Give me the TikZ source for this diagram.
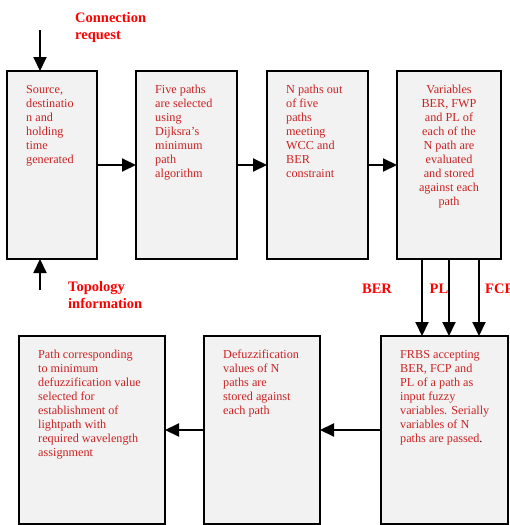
\documentclass[tikz,border=0pt]{standalone}
\usepackage{fontspec}
\setmainfont{Liberation Serif}
\usetikzlibrary{arrows.meta, positioning}
\definecolor{boxred}{RGB}{204,34,34}
\definecolor{boxgray}{RGB}{242,242,242}
\tikzstyle{stage} = [rectangle, draw=black, line width=2pt, fill=boxgray, minimum height=188pt, inner sep=0pt, outer sep=0pt]
\tikzstyle{stagetext} = [align=left, inner sep=0pt, text=boxred, font=\fontsize{12.2}{14}\selectfont]
\tikzstyle{inlabel} = [inner sep=0pt, text=red, align=left, font=\fontsize{14.5}{17}\selectfont\bfseries]
\tikzstyle{arrow} = [line width=2pt, -{Triangle[length=14pt, width=13pt]}]
\begin{document}
\begin{tikzpicture}[x=1pt, y=-1pt, node distance=1cm]
\useasboundingbox (0,0) rectangle (509,525);

% top row
\node (src) [stage, minimum width=90pt] at (52,165) {};
\node (select) [stage, minimum width=101pt, right=39pt of src] {};
\node (meet) [stage, minimum width=101pt, right=30pt of select] {};
\node (evalv) [stage, minimum width=104pt, right=29pt of meet] {};

\node (srctext) [stagetext, below right=14pt and 19pt of src.north west] {Source,\\destinatio\\n and\\holding\\time\\generated};
\node (selecttext) [stagetext, below right=14pt and 19pt of select.north west] {Five paths\\are selected\\using\\Dijksra’s\\minimum\\path\\algorithm};
\node (meettext) [stagetext, below right=14pt and 19pt of meet.north west] {N paths out\\of five\\paths\\meeting\\WCC and\\BER\\constraint};
\node (evalvtext) [stagetext, align=center, below=14pt of evalv.north] {Variables\\BER, FWP\\and PL of\\each of the\\N path are\\evaluated\\and stored\\against each\\path};

\draw [arrow] (src) -- (select);
\draw [arrow] (select) -- (meet);
\draw [arrow] (meet) -- (evalv);

% inputs
\coordinate (req) at (40,30);
\coordinate (topo) at (40,290);
\draw [arrow] (req) -- (req |- src.north);
\draw [arrow] (topo) -- (topo |- src.south);
\node (reqlabel) [inlabel, anchor=north west] at (75,12) {Connection\\request};
\node (topolabel) [inlabel, anchor=north west] at (68,281) {Topology\\information};

% bottom row
\node (frbs) [stage, minimum width=127pt] at (444.5,430) {};
\node (defuzz) [stage, minimum width=116pt, left=61pt of frbs] {};
\node (lightpath) [stage, minimum width=146pt, left=39pt of defuzz] {};

\node (frbstext) [stagetext, below right=14pt and 19pt of frbs.north west] {FRBS accepting\\BER, FCP and\\PL of a path as\\input fuzzy\\variables. Serially\\variables of N\\paths are passed{\color{black}.}};
\node (defuzztext) [stagetext, below right=14pt and 19pt of defuzz.north west] {Defuzzification\\values of N\\paths are\\stored against\\each path};
\node (lightpathtext) [stagetext, below right=14pt and 19pt of lightpath.north west] {Path corresponding\\to minimum\\defuzzification value\\selected for\\establishment of\\lightpath with\\required wavelength\\assignment};

\foreach \dx in {-27,0,30}
  \draw [arrow] ([xshift=\dx pt]evalv.south) -- ([xshift=\dx pt]evalv.south |- frbs.north);
\node (berlabel) [inlabel] at (377,289) {BER};
\node (pllabel) [inlabel] at (439,289) {PL};
\node (fcplabel) [inlabel, anchor=west] at (485,289) {FCP};

\draw [arrow] (frbs) -- (defuzz);
\draw [arrow] (defuzz) -- (lightpath);

\end{tikzpicture}
\end{document}
